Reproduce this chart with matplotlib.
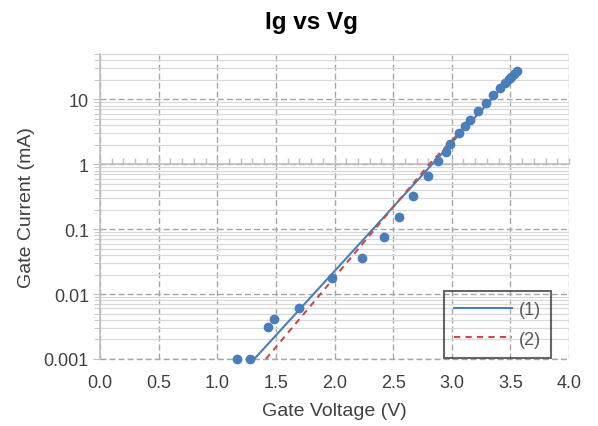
import matplotlib
matplotlib.use("Agg")
import matplotlib.pyplot as plt
from matplotlib.ticker import FixedLocator, NullFormatter, MultipleLocator, FuncFormatter, LogLocator
import numpy as np

plt.rcParams['font.family'] = ['Liberation Sans', 'DejaVu Sans']

# Measured data
gate_voltage = [1.165, 1.279, 1.435, 1.486, 1.696, 1.981, 2.236, 2.418, 2.549, 2.671,
                2.799, 2.882, 2.950, 2.987, 3.058, 3.115, 3.157, 3.228, 3.291, 3.353,
                3.410, 3.450, 3.487, 3.509, 3.532, 3.555]
gate_current = [0.001, 0.001, 0.0031, 0.0041, 0.0062, 0.0175, 0.0354, 0.0764, 0.155, 0.327,
                0.663, 1.13, 1.55, 2.06, 3.0, 3.9, 4.8, 6.7, 8.8, 11.8,
                15.0, 17.6, 20.3, 22.4, 24.6, 27.0]

# Model (1)
model1_v = [1.316, 3.56]
model1_i = [0.001, 27.5]

# Model (2)
model2_v = [1.415, 1.75, 2.087, 2.45, 2.813, 3.2, 3.56]
model2_i = [0.001, 0.00525, 0.0279, 0.17, 1.026, 5.5, 25.1]

x_ticks = [0.0, 0.5, 1.0, 1.5, 2.0, 2.5, 3.0, 3.5, 4.0]
y_ticks = [0.001, 0.01, 0.1, 1, 10]
y_tick_labels = ["0.001", "0.01", "0.1", "1", "10"]

blue = '#4A7EBB'
red = '#C0504D'
txt = '#404040'
dash = (0, (4.3, 2.2))

fig = plt.figure(figsize=(5.98, 4.27), dpi=100)
ax = fig.add_axes([100/598, 1-360/427, 469/598, 305/427])

ax.set_yscale('log')
ax.set_xlim(0, 4.0)
ax.set_ylim(0.001, 50)

ax.plot(model1_v, model1_i, color=blue, lw=1.5, label='(1)', zorder=3)
ax.plot(model2_v, model2_i, color=red, lw=1.5, ls=(0, (3, 2.5)), label='(2)', zorder=3)
ax.plot(gate_voltage, gate_current, 'o', color=blue, ms=6, mec=blue, zorder=4, clip_on=False)

# ticks
ax.xaxis.set_major_locator(FixedLocator(x_ticks))
ax.xaxis.set_major_formatter(FuncFormatter(lambda v, p: f"{v:.1f}"))
ax.yaxis.set_major_locator(FixedLocator(y_ticks))
ax.yaxis.set_major_formatter(FuncFormatter(lambda v, p: y_tick_labels[y_ticks.index(min(y_ticks, key=lambda t: abs(np.log10(t)-np.log10(v))))]))
ax.yaxis.set_minor_locator(LogLocator(base=10, subs=np.arange(2, 10), numticks=20))
ax.yaxis.set_minor_formatter(NullFormatter())

ax.tick_params(axis='y', which='major', length=5, color='#BFBFBF', labelsize=13, labelcolor=txt, pad=3)
ax.tick_params(axis='y', which='minor', length=4, color='#BFBFBF')

# grid
ax.grid(True, which='major', axis='both', color='#A6A6A6', lw=1.0, ls=dash, zorder=1)
ax.grid(True, which='minor', axis='y', color='#D9D9D9', lw=0.9, ls='-', zorder=0.5)
ax.axhline(y_ticks[0], color='#A6A6A6', lw=1.0, ls=dash, clip_on=False, zorder=1)
ax.set_axisbelow(True)

for s in ['right', 'bottom']:
    ax.spines[s].set_visible(False)
ax.spines['left'].set_color('#BFBFBF')
ax.spines['left'].set_linewidth(1.2)

# horizontal axis line crossing at 1 with minor ticks
ax.spines['top'].set_position(('data', 1))
ax.spines['top'].set_color('#BFBFBF')
ax.spines['top'].set_linewidth(1.2)
ax.xaxis.set_minor_locator(MultipleLocator(0.1))
ax.tick_params(axis='x', which='minor', bottom=False, top=True, direction='out', length=4, color='#BFBFBF', width=1)
ax.tick_params(axis='x', which='major', bottom=False, top=True, labeltop=False, labelbottom=True,
               direction='out', length=4, color='#BFBFBF', width=1, labelsize=13, labelcolor=txt, pad=7)

ax.set_xlabel('Gate Voltage (V)', fontsize=14, color=txt, labelpad=8)
ax.set_ylabel('Gate Current (mA)', fontsize=14, color=txt, labelpad=6)

fig.text(311/598, 1-22/427, 'Ig vs Vg', ha='center', va='center', fontsize=17.5, fontweight='bold', color='black')

leg = ax.legend(loc='upper left', bbox_to_anchor=(444/598, 1-292/427), bbox_transform=fig.transFigure,
                fontsize=13, frameon=True, fancybox=False, handlelength=3.2, handletextpad=0.4,
                borderpad=0.55, labelspacing=0.7, borderaxespad=0)
leg.get_frame().set_edgecolor('#404040')
leg.get_frame().set_linewidth(1.5)
leg.get_frame().set_facecolor('none')
for t in leg.get_texts():
    t.set_color('#595959')

fig.savefig('out.png', dpi=100)
